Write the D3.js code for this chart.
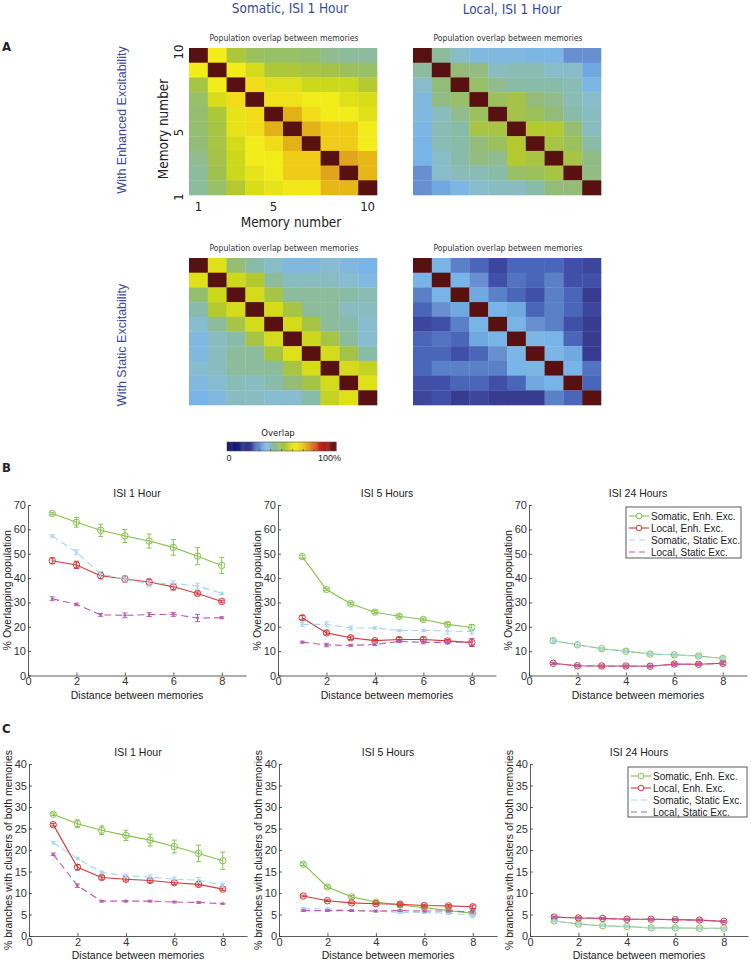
<!DOCTYPE html>
<html>
<head>
<meta charset="utf-8">
<script src="https://cdn.jsdelivr.net/npm/d3@7"></script>
<style>
  body { margin: 0; background: #fff; }
  svg { display: block; }
  text { font-family: "Liberation Sans", Arial, sans-serif; fill: #222; }
  .narrow { font-family: "Liberation Sans Narrow", "DejaVu Sans Condensed", sans-serif; }
  .blue { fill: #3b4a9a; }
</style>
</head>
<body>
<div id="fig"></div>
<script>
// ---- heatmaps (display order, top row first), values in % overlap
var heatSomEnh = [
  [100, 63, 53, 49, 48, 48, 47, 44, 43, 43],
  [63, 100, 63, 58, 53, 53, 52, 51, 49, 48],
  [52, 63, 100, 66, 60, 60, 57, 57, 57, 54],
  [48, 59, 66, 100, 65, 65, 63, 63, 60, 59],
  [47, 53, 61, 66, 100, 72, 66, 63, 63, 60],
  [47, 52, 61, 66, 72, 100, 72, 68, 68, 63],
  [46, 52, 58, 63, 66, 72, 100, 68, 68, 63],
  [44, 51, 57, 63, 63, 68, 68, 100, 74, 71],
  [43, 50, 57, 61, 63, 68, 68, 74, 100, 71],
  [43, 48, 54, 59, 61, 64, 64, 71, 71, 100]
];
var heatLocEnh = [
  [100, 43, 39, 36, 36, 36, 35, 35, 30, 30],
  [43, 100, 46, 45, 40, 41, 41, 39, 39, 32],
  [39, 46, 100, 48, 44, 42, 42, 42, 41, 35],
  [36, 45, 48, 100, 49, 51, 46, 44, 41, 39],
  [36, 40, 44, 49, 100, 51, 49, 46, 42, 40],
  [35, 41, 42, 52, 52, 100, 54, 54, 47, 40],
  [34, 41, 42, 46, 49, 54, 100, 52, 49, 42],
  [34, 39, 42, 45, 44, 54, 52, 100, 52, 45],
  [30, 39, 41, 41, 42, 48, 49, 52, 100, 45],
  [30, 32, 35, 39, 40, 40, 42, 46, 46, 100]
];
var heatSomStat = [
  [100, 60, 47, 42, 39, 36, 36, 38, 36, 34],
  [60, 100, 57, 54, 43, 40, 40, 40, 38, 36],
  [47, 57, 100, 58, 52, 43, 43, 43, 42, 41],
  [42, 54, 58, 100, 58, 52, 43, 43, 40, 40],
  [38, 43, 52, 58, 100, 58, 52, 43, 42, 38],
  [36, 40, 42, 52, 58, 100, 57, 52, 43, 38],
  [36, 40, 43, 43, 52, 60, 100, 58, 51, 42],
  [38, 40, 43, 43, 43, 52, 58, 100, 58, 56],
  [36, 38, 41, 40, 42, 46, 51, 58, 100, 60],
  [34, 36, 40, 40, 38, 38, 42, 56, 60, 100]
];
var heatLocStat = [
  [100, 34, 28, 26, 23, 26, 26, 26, 24, 23],
  [34, 100, 34, 30, 24, 27, 26, 28, 24, 24],
  [28, 34, 100, 32, 28, 26, 24, 28, 26, 22],
  [26, 30, 32, 100, 34, 32, 26, 28, 26, 23],
  [23, 24, 28, 34, 100, 34, 30, 28, 24, 22],
  [26, 27, 26, 32, 34, 100, 35, 34, 26, 22],
  [26, 26, 24, 26, 30, 35, 100, 35, 32, 22],
  [26, 28, 28, 28, 28, 34, 35, 100, 34, 27],
  [24, 24, 26, 26, 24, 26, 32, 34, 100, 26],
  [23, 24, 22, 23, 22, 22, 22, 28, 26, 100]
];

// ---- line plots: series order = Somatic Enh, Local Enh, Somatic Static, Local Static
var distances = [1, 2, 3, 4, 5, 6, 7, 8];
var seriesNames = ["Somatic, Enh. Exc.", "Local, Enh. Exc.", "Somatic, Static Exc.", "Local, Static Exc."];

var overlap1h = [
  [66.5, 62.9, 59.6, 57.3, 55.2, 52.6, 49.0, 45.2],
  [47.1, 45.4, 41.0, 39.6, 38.4, 36.4, 33.7, 30.4],
  [57.3, 50.6, 41.7, 39.5, 37.6, 37.9, 36.7, 33.7],
  [31.5, 29.2, 24.9, 24.7, 25.0, 25.1, 23.6, 23.7]
];
var overlap1hErr = [
  [0.5, 2.0, 2.5, 2.7, 2.9, 3.2, 3.5, 3.3],
  [1.2, 1.5, 1.3, 1.2, 1.2, 1.3, 0.6, 0.5],
  [0.5, 1.0, 1.0, 1.0, 1.2, 1.0, 1.2, 0.5],
  [0.8, 0.5, 0.6, 1.0, 0.8, 0.8, 1.5, 0.4]
];
var overlap5h = [
  [48.8, 35.3, 29.5, 26.0, 24.3, 23.0, 21.0, 19.7],
  [23.7, 17.5, 15.5, 14.3, 14.8, 14.8, 14.2, 13.5],
  [21.0, 21.0, 19.5, 19.5, 18.5, 18.5, 18.3, 18.0],
  [13.7, 12.5, 12.4, 12.7, 14.0, 13.6, 13.6, 13.8]
];
var overlap5hErr = [
  [0.6, 0.5, 0.5, 0.6, 0.6, 0.6, 0.7, 1.2],
  [0.9, 0.8, 0.7, 0.5, 0.8, 1.0, 0.6, 1.6],
  [0.8, 1.0, 0.8, 0.5, 0.4, 0.5, 1.3, 1.0],
  [0.4, 0.7, 0.4, 0.4, 0.4, 0.6, 0.6, 1.2]
];
var overlap24h = [
  [14.3, 12.6, 11.0, 10.0, 8.8, 8.5, 8.0, 7.0],
  [5.0, 4.0, 3.9, 3.9, 3.8, 4.7, 4.6, 5.0],
  [14.3, 12.6, 11.0, 10.0, 8.8, 8.5, 7.9, 7.0],
  [4.9, 4.0, 3.8, 3.8, 3.8, 4.6, 4.6, 5.0]
];
var overlap24hErr = [
  [0.8, 1.0, 0.5, 0.5, 0.4, 0.5, 0.6, 0.6],
  [0.4, 0.4, 0.4, 0.4, 0.4, 0.5, 0.5, 0.6],
  [0.8, 1.0, 0.5, 0.5, 0.4, 0.5, 0.6, 0.6],
  [0.4, 0.4, 0.4, 0.4, 0.4, 0.5, 0.5, 0.6]
];
var branch1h = [
  [28.3, 26.1, 24.6, 23.4, 22.3, 20.8, 19.2, 17.5],
  [25.9, 16.0, 13.6, 13.2, 12.9, 12.4, 12.0, 10.9],
  [21.7, 18.0, 14.8, 14.0, 13.7, 13.2, 13.0, 11.8],
  [19.0, 11.7, 8.1, 8.1, 8.1, 7.9, 7.8, 7.5]
];
var branch1hErr = [
  [0.3, 0.9, 1.0, 1.2, 1.4, 1.5, 1.9, 2.0],
  [0.3, 0.6, 0.4, 0.4, 0.4, 0.4, 0.4, 0.3],
  [0.3, 0.3, 0.3, 0.4, 0.5, 0.5, 0.6, 0.5],
  [0.3, 0.4, 0.2, 0.2, 0.2, 0.2, 0.2, 0.1]
];
var branch5h = [
  [16.7, 11.4, 9.1, 7.9, 7.2, 6.6, 5.9, 5.3],
  [9.3, 8.2, 7.7, 7.5, 7.4, 7.1, 7.0, 6.8],
  [6.4, 6.3, 5.9, 5.8, 5.5, 5.5, 5.3, 4.8],
  [5.9, 5.9, 5.9, 5.8, 5.9, 5.8, 5.8, 5.6]
];
var branch5hErr = [
  [0.3, 0.3, 0.3, 0.3, 0.3, 0.3, 0.3, 0.4],
  [0.2, 0.2, 0.2, 0.2, 0.3, 0.3, 0.3, 0.4],
  [0.2, 0.2, 0.2, 0.2, 0.3, 0.3, 0.3, 0.5],
  [0.2, 0.2, 0.2, 0.2, 0.2, 0.2, 0.2, 0.3]
];
var branch24h = [
  [3.5, 2.8, 2.4, 2.2, 1.9, 1.9, 1.8, 1.8],
  [4.4, 4.2, 4.1, 3.9, 3.9, 3.8, 3.7, 3.4],
  [3.5, 2.8, 2.4, 2.2, 1.9, 1.9, 1.8, 1.8],
  [4.4, 4.2, 4.1, 3.9, 3.9, 3.8, 3.7, 3.4]
];
var branch24hErr = [
  [0.2, 0.2, 0.2, 0.2, 0.2, 0.2, 0.2, 0.2],
  [0.2, 0.2, 0.2, 0.2, 0.2, 0.2, 0.2, 0.2],
  [0.2, 0.2, 0.2, 0.2, 0.2, 0.2, 0.2, 0.2],
  [0.2, 0.2, 0.2, 0.2, 0.2, 0.2, 0.2, 0.2]
];

// ---- styles
var seriesColors = ["#86c34e", "#d23a3a", "#a6d6ef", "#b85cb0"];
var seriesDash = [null, null, "7,4", "7,4"];
var seriesCircle = [true, true, false, false];

var cmapStops = [0, 12, 22, 24, 26, 28, 30, 32, 34, 36, 38, 40, 42, 44, 46, 48, 50, 52, 54, 57, 60, 63, 66, 68, 72, 75, 85, 92, 100];
var cmapColors = ["#0c0c5c", "#1c2480", "#383c90", "#4050a8", "#4a66b8", "#5a80c8", "#6890d0", "#70a8e0",
  "#78b4e8", "#80b8e0", "#88bcd0", "#88bcc0", "#88bca8", "#90bc90", "#94bc78", "#98c068", "#a0c050",
  "#a8c444", "#b4c830", "#ccd81c", "#e0e018", "#f2ec1a", "#f0dc18", "#f0cc18", "#e4b018", "#e0a020",
  "#c82818", "#a01818", "#581010"];
var cmap = d3.scaleLinear().domain(cmapStops).range(cmapColors).clamp(true);

var svg = d3.select("#fig").append("svg")
  .attr("width", 751)
  .attr("height", 960);

// ---- panel A
var hmW = 188, hmH = 147;

function heatmap(x0, y0, mat) {
  var xb = d3.scaleBand().domain(d3.range(10)).range([x0, x0 + hmW]);
  var yb = d3.scaleBand().domain(d3.range(10)).range([y0, y0 + hmH]);
  var g = svg.append("g");
  mat.forEach(function(row, r) {
    g.selectAll(null)
      .data(row)
      .enter()
      .append("rect")
      .attr("x", function(d, c) { return xb(c); })
      .attr("y", yb(r))
      .attr("width", xb.bandwidth() + 0.3)
      .attr("height", yb.bandwidth() + 0.3)
      .attr("fill", function(d) { return cmap(d); });
  });
  g.append("text").attr("class", "narrow")
    .attr("x", x0 + hmW / 2 + 1)
    .attr("y", y0 - 7)
    .attr("text-anchor", "middle")
    .style("font-size", "8.6px")
    .style("fill", "#333")
    .text("Population overlap between memories");
  return xb;
}

var hmX = [189, 413], hmY = [48, 258];
var xbTL = heatmap(hmX[0], hmY[0], heatSomEnh);
heatmap(hmX[1], hmY[0], heatLocEnh);
heatmap(hmX[0], hmY[1], heatSomStat);
heatmap(hmX[1], hmY[1], heatLocStat);

svg.append("text").attr("class", "narrow blue")
  .attr("x", 290).attr("y", 13).attr("text-anchor", "middle")
  .style("font-size", "13.5px").text("Somatic, ISI 1 Hour");
svg.append("text").attr("class", "narrow blue")
  .attr("x", 512).attr("y", 14).attr("text-anchor", "middle")
  .style("font-size", "13.5px").text("Local, ISI 1 Hour");

svg.append("text").attr("class", "narrow")
  .attr("x", 2).attr("y", 51)
  .style("font-size", "13px").style("font-weight", "bold").text("A");

svg.append("text").attr("class", "blue")
  .attr("transform", "translate(126,120) rotate(-90)")
  .attr("text-anchor", "middle")
  .style("font-size", "12.5px").text("With Enhanced Excitability");
svg.append("text").attr("class", "blue")
  .attr("transform", "translate(126,345) rotate(-90)")
  .attr("text-anchor", "middle")
  .style("font-size", "12.5px").text("With Static Excitability");

// memory number axes on the top-left map
var memTicks = [1, 5, 10];
var memY = d3.scaleLinear().domain([1, 10]).range([hmY[0] + hmH + 2, hmY[0] + 4]);
svg.selectAll(".memy")
  .data(memTicks)
  .enter()
  .append("text").attr("class", "narrow memy")
  .attr("transform", function(d) { return "translate(183," + memY(d) + ") rotate(-90)"; })
  .attr("text-anchor", "middle")
  .style("font-size", "13px")
  .text(function(d) { return d; });
svg.selectAll(".memx")
  .data(memTicks)
  .enter()
  .append("text").attr("class", "narrow memx")
  .attr("x", function(d) { return xbTL(d - 1) + xbTL.bandwidth() / 2; })
  .attr("y", 211)
  .attr("text-anchor", "middle")
  .style("font-size", "13px")
  .text(function(d) { return d; });
svg.append("text").attr("class", "narrow")
  .attr("transform", "translate(168,129) rotate(-90)")
  .attr("text-anchor", "middle")
  .style("font-size", "13.5px").text("Memory number");
svg.append("text").attr("class", "narrow")
  .attr("x", 291).attr("y", 227)
  .attr("text-anchor", "middle")
  .style("font-size", "13.5px").text("Memory number");

// colour bar
var cbX = d3.scaleLinear().domain([0, 100]).range([227, 336]);
var cbY = 442, cbH = 9;
svg.append("g").selectAll("rect")
  .data(d3.range(0, 100, 1))
  .enter()
  .append("rect")
  .attr("x", function(d) { return cbX(d); })
  .attr("y", cbY)
  .attr("width", cbX(1) - cbX(0) + 0.4)
  .attr("height", cbH)
  .attr("fill", function(d) { return cmap(d + 0.5); });
svg.append("rect")
  .attr("x", cbX(0)).attr("y", cbY)
  .attr("width", cbX(100) - cbX(0)).attr("height", cbH)
  .attr("fill", "none").attr("stroke", "#555").attr("stroke-width", 0.6);
svg.append("g").selectAll("line")
  .data(d3.range(10, 100, 10))
  .enter()
  .append("line")
  .attr("x1", function(d) { return cbX(d); })
  .attr("x2", function(d) { return cbX(d); })
  .attr("y1", cbY + cbH)
  .attr("y2", cbY + cbH - 2)
  .attr("stroke", "#333").attr("stroke-width", 0.6);
svg.append("text").attr("class", "narrow")
  .attr("x", 278).attr("y", 436).attr("text-anchor", "middle")
  .style("font-size", "9.5px").text("Overlap");
svg.append("text")
  .attr("x", cbX(0) + 2).attr("y", 461).attr("text-anchor", "middle")
  .style("font-size", "9px").text("0");
svg.append("text")
  .attr("x", 341).attr("y", 461).attr("text-anchor", "end")
  .style("font-size", "9px").text("100%");

// ---- panels B and C
function linePlot(opts) {
  var x = d3.scaleLinear().domain([0, 9]).range([opts.left, opts.left + 218]);
  var y = d3.scaleLinear().domain([0, opts.yMax]).range([opts.bottom, opts.top]);
  var g = svg.append("g");

  var xAxis = d3.axisBottom(x)
    .tickValues([0, 2, 4, 6, 8])
    .tickSizeInner(-3)
    .tickSizeOuter(0)
    .tickPadding(2);
  var yAxis = d3.axisLeft(y)
    .tickValues(d3.range(0, opts.yMax + 0.1, opts.yStep))
    .tickSizeInner(-3)
    .tickSizeOuter(0)
    .tickPadding(2);

  g.append("g")
    .attr("transform", "translate(0," + opts.bottom + ")")
    .call(xAxis);
  g.append("g")
    .attr("transform", "translate(" + opts.left + ",0)")
    .call(yAxis);
  g.selectAll(".domain, .tick line").attr("stroke", "#333").attr("stroke-width", 0.8);
  g.selectAll(".tick text")
    .attr("font-family", null).attr("font-size", null)
    .style("font-size", "11px").style("fill", "#333");

  g.append("text")
    .attr("x", opts.left + 109).attr("y", opts.top - 8)
    .attr("text-anchor", "middle")
    .style("font-size", "10.5px").text(opts.title);
  g.append("text")
    .attr("x", opts.left + 109).attr("y", opts.bottom + 23)
    .attr("text-anchor", "middle")
    .style("font-size", "10.5px").text("Distance between memories");
  g.append("text")
    .attr("transform", "translate(" + (opts.left - 17) + "," + ((opts.top + opts.bottom) / 2) + ") rotate(-90)")
    .attr("text-anchor", "middle")
    .style("font-size", "10.5px").text(opts.yLabel);

  var line = d3.line()
    .x(function(d, i) { return x(distances[i]); })
    .y(function(d) { return y(d); });

  opts.vals.forEach(function(vals, s) {
    var col = seriesColors[s];
    var sg = g.append("g");
    sg.append("path")
      .datum(vals)
      .attr("d", line)
      .attr("fill", "none")
      .attr("stroke", col)
      .attr("stroke-width", 1.1)
      .attr("stroke-dasharray", seriesDash[s]);
    var errs = opts.errs[s];
    var eb = sg.selectAll(".eb")
      .data(vals)
      .enter()
      .append("g");
    eb.append("line")
      .attr("x1", function(d, i) { return x(distances[i]); })
      .attr("x2", function(d, i) { return x(distances[i]); })
      .attr("y1", function(d, i) { return y(d - errs[i]); })
      .attr("y2", function(d, i) { return y(d + errs[i]); })
      .attr("stroke", col).attr("stroke-width", 1);
    [-1, 1].forEach(function(sign) {
      eb.append("line")
        .attr("x1", function(d, i) { return x(distances[i]) - 2.5; })
        .attr("x2", function(d, i) { return x(distances[i]) + 2.5; })
        .attr("y1", function(d, i) { return y(d + sign * errs[i]); })
        .attr("y2", function(d, i) { return y(d + sign * errs[i]); })
        .attr("stroke", col).attr("stroke-width", 1);
    });
    if (seriesCircle[s]) {
      sg.selectAll("circle")
        .data(vals)
        .enter()
        .append("circle")
        .attr("cx", function(d, i) { return x(distances[i]); })
        .attr("cy", function(d) { return y(d); })
        .attr("r", 3.2)
        .attr("fill", "none")
        .attr("stroke", col).attr("stroke-width", 1);
    } else {
      sg.selectAll("circle")
        .data(vals)
        .enter()
        .append("circle")
        .attr("cx", function(d, i) { return x(distances[i]); })
        .attr("cy", function(d) { return y(d); })
        .attr("r", 1.4)
        .attr("fill", col);
    }
  });

  if (opts.legend) {
    var L = opts.legend;
    var lg = g.append("g").attr("transform", "translate(" + L.x + "," + L.y + ")");
    lg.append("rect")
      .attr("width", L.w).attr("height", L.h)
      .attr("fill", "#fff").attr("stroke", "#333").attr("stroke-width", 0.8);
    var item = lg.selectAll(".item")
      .data(seriesNames)
      .enter()
      .append("g")
      .attr("transform", function(d, i) { return "translate(0," + (9 + i * 12) + ")"; });
    item.append("line")
      .attr("x1", 3).attr("x2", 23)
      .attr("stroke", function(d, i) { return seriesColors[i]; })
      .attr("stroke-width", 1.1)
      .attr("stroke-dasharray", function(d, i) { return seriesDash[i] ? "6,4" : null; });
    item.filter(function(d, i) { return seriesCircle[i]; })
      .append("circle")
      .attr("cx", 13).attr("r", 2.8)
      .attr("fill", "#fff")
      .attr("stroke", function(d, i) { return seriesColors[seriesNames.indexOf(d)]; });
    item.append("text")
      .attr("x", 25).attr("y", 3.5)
      .style("font-size", "10px")
      .text(function(d) { return d; });
  }
}

var lefts = [28, 278, 529];
var overlapVals = [overlap1h, overlap5h, overlap24h];
var overlapErrs = [overlap1hErr, overlap5hErr, overlap24hErr];
var branchVals = [branch1h, branch5h, branch24h];
var branchErrs = [branch1hErr, branch5hErr, branch24hErr];
var isiTitles = ["ISI 1 Hour", "ISI 5 Hours", "ISI 24 Hours"];

for (var k = 0; k < 3; k++) {
  linePlot({
    left: lefts[k], top: 505, bottom: 675.5, yMax: 70, yStep: 10,
    title: isiTitles[k], yLabel: "% Overlapping population",
    vals: overlapVals[k], errs: overlapErrs[k],
    legend: k == 2 ? { x: 626, y: 507, w: 115, h: 51 } : null
  });
  linePlot({
    left: lefts[k] + 1, top: 764, bottom: 936, yMax: 40, yStep: 5,
    title: isiTitles[k], yLabel: "% branches with clusters of both memories",
    vals: branchVals[k], errs: branchErrs[k],
    legend: k == 2 ? { x: 628, y: 767, w: 119, h: 50 } : null
  });
}

svg.append("text").attr("class", "narrow")
  .attr("x", 2).attr("y", 472)
  .style("font-size", "13px").style("font-weight", "bold").text("B");
svg.append("text").attr("class", "narrow")
  .attr("x", 2).attr("y", 733)
  .style("font-size", "13px").style("font-weight", "bold").text("C");
</script>
</body>
</html>
